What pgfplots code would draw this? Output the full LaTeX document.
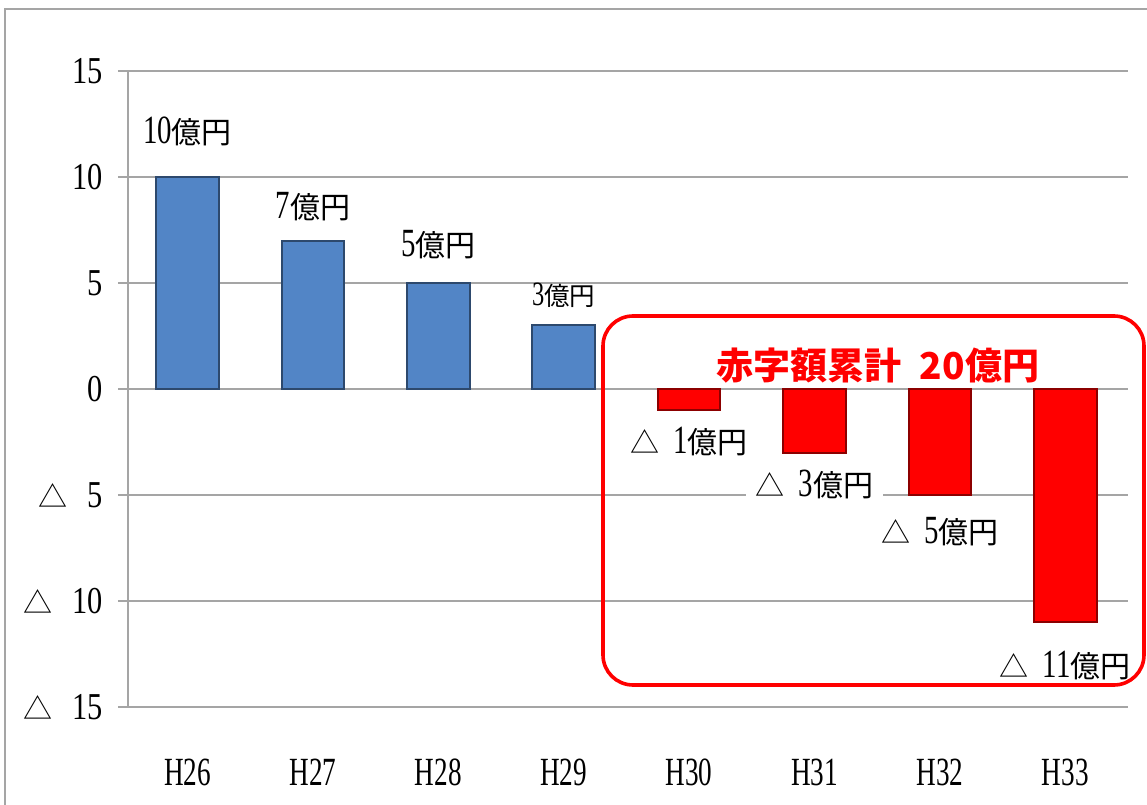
\documentclass[border=0pt]{standalone}
\usepackage{pgfplots}
\pgfplotsset{compat=1.18}
\usepackage{graphicx}
\usepackage{fontspec}
\setmainfont{Liberation Serif}
\newfontfamily\cjk{Noto Sans CJK JP}
\definecolor{barblue}{RGB}{82,133,198}
\definecolor{barred}{RGB}{255,0,0}
\definecolor{gridgray}{RGB}{165,165,165}
\newcommand\dg[1]{\scalebox{0.72}[1]{#1}}
\newcommand\tri{{\cjk\fontsize{14.5pt}{14.5pt}\selectfont △}}
\newcommand\lab[1]{{\fontsize{20pt}{20pt}\selectfont\dg{#1}}{\cjk\fontsize{15pt}{15pt}\selectfont 億円}}
\newcommand\nlab[1]{\tri\hspace{7pt}\lab{#1}}
\newcommand\ytl[1]{{\fontsize{19pt}{19pt}\selectfont\scalebox{0.8}[1]{#1}}}
\begin{document}
\begin{tikzpicture}
\useasboundingbox (0,0) rectangle (573.5pt,402pt);
% outer frame
\begin{scope}[x=0.5pt,y=-0.5pt,yshift=402pt]
\draw[gridgray, line width=1pt] (5,820) -- (5,9) -- (1160,9);
\end{scope}
\begin{axis}[
  at={(64pt,48.5pt)}, anchor=south west,
  scale only axis, width=500pt, height=318pt,
  xmin=-0.475, xmax=7.5, ymin=-15, ymax=15,
  axis lines*=left,
  axis line style={-, draw=gridgray, line width=1pt},
  ybar, bar width=0.5, bar shift=0pt,
  xtick={0,1,2,3,4,5,6,7},
  xticklabels={H26,H27,H28,H29,H30,H31,H32,H33},
  xtick style={draw=none},
  xticklabel style={anchor=center, yshift=-27.5pt, font=\fontsize{20pt}{20pt}\selectfont, xscale=0.68},
  ytick={-15,-10,-5,0,5,10,15},
  yticklabels={{\tri\hspace{10pt}\ytl{15}},{\tri\hspace{10pt}\ytl{10}},{\tri\hspace{10pt}\ytl{5}},\ytl{0},\ytl{5},\ytl{10},\ytl{15}},
  yticklabel style={anchor=east, xshift=-4pt},
  tick align=outside, major tick length=5pt,
  ytick style={draw=gridgray, line width=1pt},
  ymajorgrids, grid style={draw=gridgray, line width=1pt},
  clip=false,
]
\addplot[fill=barblue, draw=barblue!55!black, line width=1pt] coordinates {(0,10) (1,7) (2,5) (3,3)};
\addplot[fill=barred, draw=barred!55!black, line width=1pt] coordinates {(4,-1) (5,-3) (6,-5) (7,-11)};
\node at (axis cs:0,12.17) {\lab{10}};
\node at (axis cs:1,8.58) {\lab{7}};
\node at (axis cs:2,6.79) {\lab{5}};
\node at (axis cs:3,4.43) {\scalebox{0.85}{\lab{3}}};
\node at (axis cs:4,-2.5) {\nlab{1}};
\node[fill=white, inner xsep=5pt] at (axis cs:5,-4.5) {\nlab{3}};
\node at (axis cs:6,-6.75) {\nlab{5}};
\node at (axis cs:7,-13.03) {\nlab{11}};
\end{axis}
\begin{scope}[x=0.5pt,y=-0.5pt,yshift=402pt]
\draw[barred, line width=1.8pt, rounded corners=15pt] (603,316) rectangle (1144,685);
\node[text=barred, font=\cjk\bfseries\fontsize{18.5pt}{18.5pt}\selectfont] at (878,366) {赤字額累計\hspace{9pt}20億円};
\end{scope}
\end{tikzpicture}
\end{document}
